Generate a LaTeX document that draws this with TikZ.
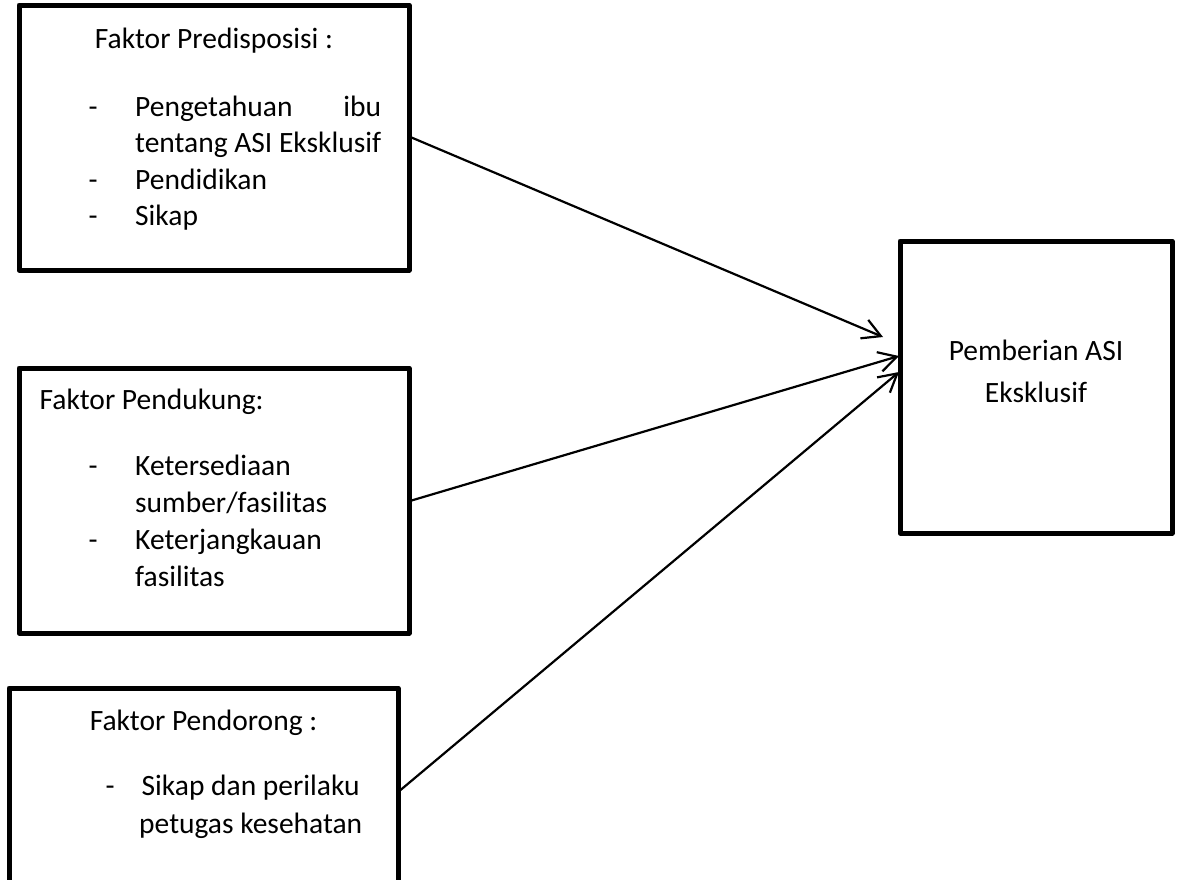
\documentclass[tikz,border=0pt]{standalone}
\usepackage{fontspec}
\setmainfont{Carlito}
\usepackage{array}
\usetikzlibrary{arrows.meta}

\begin{document}
\begin{tikzpicture}[x=1pt,y=-1pt]
  \tikzset{box/.style = {shape=rectangle,draw,line width=5pt,line join=round,inner sep=0pt}}
  \tikzset{txt/.style = {inner sep=0pt,anchor=base,font=\fontsize{29.5}{36.5}\selectfont}}
  \tikzset{%
  tipA/.tip={Straight Barb[length=18pt,width=20pt]},
}
  \tikzset{edge/.style = {-tipA,line width=2.2pt}}

  \useasboundingbox (0,0) rectangle (1180,879);

	\node[box,minimum width=390pt,minimum height=265pt] (predis) at (214,137.5) {};
	\node[box,minimum width=390pt,minimum height=265pt] (dukung) at (214,500.5) {};
	\node[box,minimum width=389pt,minimum height=204pt] (dorong) at (203.5,790) {};
	\node[box,minimum width=272pt,minimum height=292pt] (asi) at (1036,387) {};

	\node[txt] (predisT) at (214,48) {Faktor Predisposisi :};
	\node[txt,anchor=base west] (predisL) at (88.5,116) {\begin{tabular}[t]{@{}p{46.5pt}@{}p{246pt}@{}}
	  - & Pengetahuan\hfill ibu\\
	    & tentang ASI Eksklusif\\
	  - & Pendidikan\\
	  - & Sikap
	\end{tabular}};

	\node[txt,anchor=base west] (dukungT) at (39.5,409) {Faktor Pendukung:};
	\node[txt,anchor=base west,font=\fontsize{29.5}{37}\selectfont] (dukungL) at (88.5,475) {\begin{tabular}[t]{@{}p{46.5pt}@{}p{246pt}@{}}
	  - & Ketersediaan\\
	    & sumber/fasilitas\\
	  - & Keterjangkauan\\
	    & fasilitas
	\end{tabular}};

	\node[txt] (dorongT) at (203.5,730) {Faktor Pendorong :};
	\node[txt,anchor=base west,font=\fontsize{29.5}{38}\selectfont] (dorongL) at (105.5,795) {\begin{tabular}[t]{@{}p{15pt}@{}>{\centering\arraybackslash}p{260pt}@{}}
	  - & Sikap dan perilaku\\
	    & petugas kesehatan
	\end{tabular}};

	\node[txt,font=\fontsize{29.5}{42}\selectfont] (asiT) at (1036,360) {\begin{tabular}[t]{@{}c@{}}
	  Pemberian ASI\\
	  Eksklusif
	\end{tabular}};

	\coordinate (in1) at (883,337);
	\coordinate (in2) at (899,356);
	\coordinate (in3) at (899,372);

    \foreach \from/\to in {predis/in1, dukung/in2, dorong/in3}
    \path[edge](\from.east) edge (\to);

\end{tikzpicture}
\end{document}
